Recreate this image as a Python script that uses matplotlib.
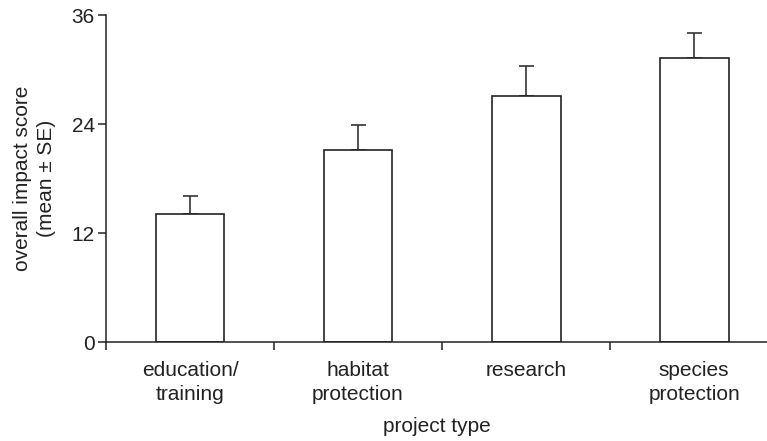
import numpy as np
import matplotlib.pyplot as plt
from matplotlib.ticker import FixedLocator

plt.rcParams['font.family'] = ['Liberation Sans', 'DejaVu Sans']

categories = ['education/\ntraining', 'habitat\nprotection', 'research', 'species\nprotection']
means = [14.1, 21.2, 27.1, 31.3]
se = [2.0, 2.7, 3.35, 2.7]
yticks = [0, 12, 24, 36]

fig = plt.figure(figsize=(7.67, 4.41), dpi=100)
ax = fig.add_axes([0.1382, 0.2238, 0.8618, 0.742])

x = np.arange(len(categories))
ax.bar(x, means, width=0.41, color='white', edgecolor='#222222', linewidth=1.2, zorder=2)
ax.errorbar(x, means, yerr=[np.zeros(len(se)), se], fmt='none', ecolor='#333333',
            elinewidth=1.2, capsize=5.4, capthick=1.2, zorder=1)

ax.set_xlim(-0.5, 3.434)
ax.set_ylim(0, 36)
ax.set_yticks(yticks)
ax.set_xticks(x)
ax.set_xticklabels(categories, fontsize=15, color='#222222', linespacing=1.3)
ax.xaxis.set_minor_locator(FixedLocator([-0.5, 0.5, 1.5, 2.5, 3.5]))
ax.tick_params(axis='x', which='major', length=0, pad=13.5)
ax.tick_params(axis='x', which='minor', length=6, width=1.1, color='#222222', direction='out')
ax.tick_params(axis='y', length=6, width=1.1, color='#222222', labelsize=15,
               labelcolor='#222222', pad=2)

for s in ['top', 'right']:
    ax.spines[s].set_visible(False)
for s in ['left', 'bottom']:
    ax.spines[s].set_linewidth(1.1)
    ax.spines[s].set_color('#222222')

ax.set_ylabel('overall impact score\n(mean ± SE)', fontsize=15, color='#222222',
              labelpad=11.5, linespacing=1.3)
ax.set_xlabel('project type', fontsize=15, color='#222222', labelpad=10)

fig.savefig('out.png', dpi=100)
